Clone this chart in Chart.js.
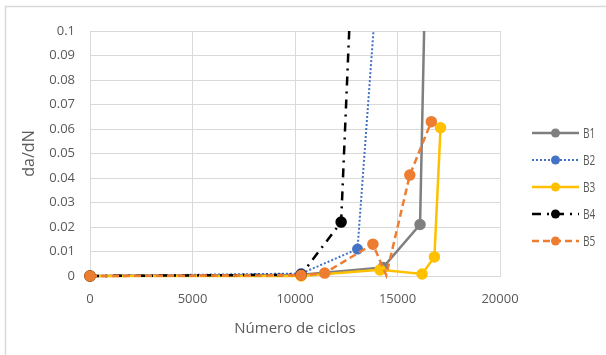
<!DOCTYPE html>
<html>
<head>
<meta charset="utf-8">
<script src="https://cdn.jsdelivr.net/npm/chart.js@4"></script>
<style>
  html, body { margin: 0; padding: 0; background: #ffffff; }
  #wrap { width: 606px; height: 355px; position: relative; }
</style>
</head>
<body>
<div id="wrap"><canvas id="c" width="606" height="355"></canvas></div>
<script>
// Crack growth rate da/dN against number of cycles, specimens B1..B5
const seriesNames = ['B1', 'B2', 'B3', 'B4', 'B5'];

const b1Cycles = [0, 10300, 14300, 16100, 16500];
const b1Rates  = [0, 0.0005, 0.0035, 0.021, 0.18];

const b2Cycles = [0, 10300, 13050, 14700];
const b2Rates  = [0, 0.001, 0.011, 0.2];

const b3Cycles = [0, 10300, 14150, 16200, 16800, 17100];
const b3Rates  = [0, 0, 0.0025, 0.0008, 0.0078, 0.0605];

const b4Cycles = [0, 10300, 12250, 13150];
const b4Rates  = [0, 0.0005, 0.022, 0.2];

const b5Cycles = [0, 10300, 11450, 13800, 14450, 15600, 16650];
const b5Rates  = [0, 0.0003, 0.0012, 0.013, 0.0003, 0.0412, 0.063];
// the B5 vertex at 14450 cycles is plotted without a marker
const b5Markers = [true, true, true, true, false, true, true];

const xTickValues = [0, 5000, 10000, 15000, 20000];
const yTickValues = [0, 0.01, 0.02, 0.03, 0.04, 0.05, 0.06, 0.07, 0.08, 0.09, 0.1];

const toPoints = (xs, ys) => xs.map((x, i) => ({ x: x, y: ys[i] }));

const styles = [
  { color: '#7f7f7f', dash: [],            width: 2.5 },
  { color: '#4472c4', dash: [2, 2],        width: 2 },
  { color: '#ffc000', dash: [],            width: 2.5 },
  { color: '#000000', dash: [9, 6, 2, 6],  width: 2.5 },
  { color: '#ed7d31', dash: [7, 4],        width: 2.5 }
];

const seriesData = [
  toPoints(b1Cycles, b1Rates),
  toPoints(b2Cycles, b2Rates),
  toPoints(b3Cycles, b3Rates),
  toPoints(b4Cycles, b4Rates),
  toPoints(b5Cycles, b5Rates)
];

const markerRadius = 4.5;

const datasets = seriesNames.map((name, i) => ({
  label: name,
  data: seriesData[i],
  borderColor: styles[i].color,
  backgroundColor: styles[i].color,
  pointBackgroundColor: styles[i].color,
  pointBorderColor: styles[i].color,
  borderWidth: styles[i].width,
  borderDash: styles[i].dash,
  pointRadius: name === 'B5' ? b5Markers.map(m => (m ? markerRadius : 0)) : markerRadius,
  pointHoverRadius: markerRadius,
  tension: 0,
  fill: false,
  order: seriesNames.length - 1 - i,
  clip: { left: 8, top: 0, right: 0, bottom: 8 }
}));

const textColor = '#595959';
const gridColor = '#d9d9d9';

// Frame lines around the chart
const framePlugin = {
  id: 'frame',
  beforeDraw(chart) {
    const ctx = chart.ctx;
    ctx.save();
    ctx.fillStyle = '#ffffff';
    ctx.fillRect(0, 0, chart.width, chart.height);
    ctx.strokeStyle = '#d9d9d9';
    ctx.lineWidth = 1.5;
    ctx.beginPath();
    ctx.moveTo(5.5, chart.height);
    ctx.lineTo(5.5, 6.5);
    ctx.lineTo(chart.width, 6.5);
    ctx.stroke();
    ctx.restore();
  }
};

// Legend drawn with each series' line and marker style
const sideLegend = {
  id: 'sideLegend',
  afterDraw(chart) {
    const ctx = chart.ctx;
    chart.data.datasets.forEach((ds, i) => {
      const y = 133 + 27 * i;
      ctx.save();
      ctx.strokeStyle = ds.borderColor;
      ctx.lineWidth = ds.borderWidth;
      ctx.setLineDash(ds.borderDash || []);
      ctx.beginPath();
      ctx.moveTo(532, y);
      ctx.lineTo(579, y);
      ctx.stroke();
      ctx.setLineDash([]);
      ctx.fillStyle = ds.pointBackgroundColor;
      ctx.beginPath();
      ctx.arc(555.5, y, markerRadius, 0, Math.PI * 2);
      ctx.fill();
      ctx.fillStyle = textColor;
      ctx.font = '14px "Open Sans"';
      ctx.textAlign = 'left';
      ctx.textBaseline = 'middle';
      ctx.translate(583, y + 1);
      ctx.scale(0.72, 1);
      ctx.fillText(ds.label, 0, 0);
      ctx.restore();
    });
  }
};

new Chart(document.getElementById('c'), {
  type: 'line',
  data: { datasets: datasets },
  options: {
    responsive: false,
    animation: false,
    events: [],
    layout: { padding: { left: 10, top: 31, right: 106, bottom: 10 } },
    plugins: {
      legend: { display: false },
      tooltip: { enabled: false }
    },
    scales: {
      x: {
        type: 'linear',
        min: xTickValues[0],
        max: xTickValues[xTickValues.length - 1],
        afterBuildTicks: (scale) => { scale.ticks = xTickValues.map(v => ({ value: v })); },
        afterFit: (scale) => { scale.height = 69; },
        grid: { color: gridColor, lineWidth: 1, drawTicks: false },
        border: { color: gridColor, width: 1 },
        ticks: {
          color: textColor,
          font: { family: 'Open Sans', size: 13 },
          padding: 15,
          maxRotation: 0,
          callback: (v) => String(v)
        },
        title: {
          display: true,
          text: 'Número de ciclos',
          color: textColor,
          font: { family: 'Open Sans', size: 15 },
          padding: { top: 4, bottom: 7 }
        }
      },
      y: {
        type: 'linear',
        min: yTickValues[0],
        max: yTickValues[yTickValues.length - 1],
        afterBuildTicks: (scale) => { scale.ticks = yTickValues.map(v => ({ value: v })); },
        afterFit: (scale) => { scale.width = 80; },
        grid: { color: gridColor, lineWidth: 1, drawTicks: false },
        border: { color: gridColor, width: 1 },
        ticks: {
          color: textColor,
          font: { family: 'Open Sans', size: 13 },
          padding: 15,
          callback: (v) => String(+v.toFixed(2))
        },
        title: {
          display: true,
          text: 'da/dN',
          color: textColor,
          font: { family: 'Open Sans', size: 16 },
          padding: { top: 10, bottom: 4 }
        }
      }
    }
  },
  plugins: [framePlugin, sideLegend]
});
</script>
</body>
</html>
